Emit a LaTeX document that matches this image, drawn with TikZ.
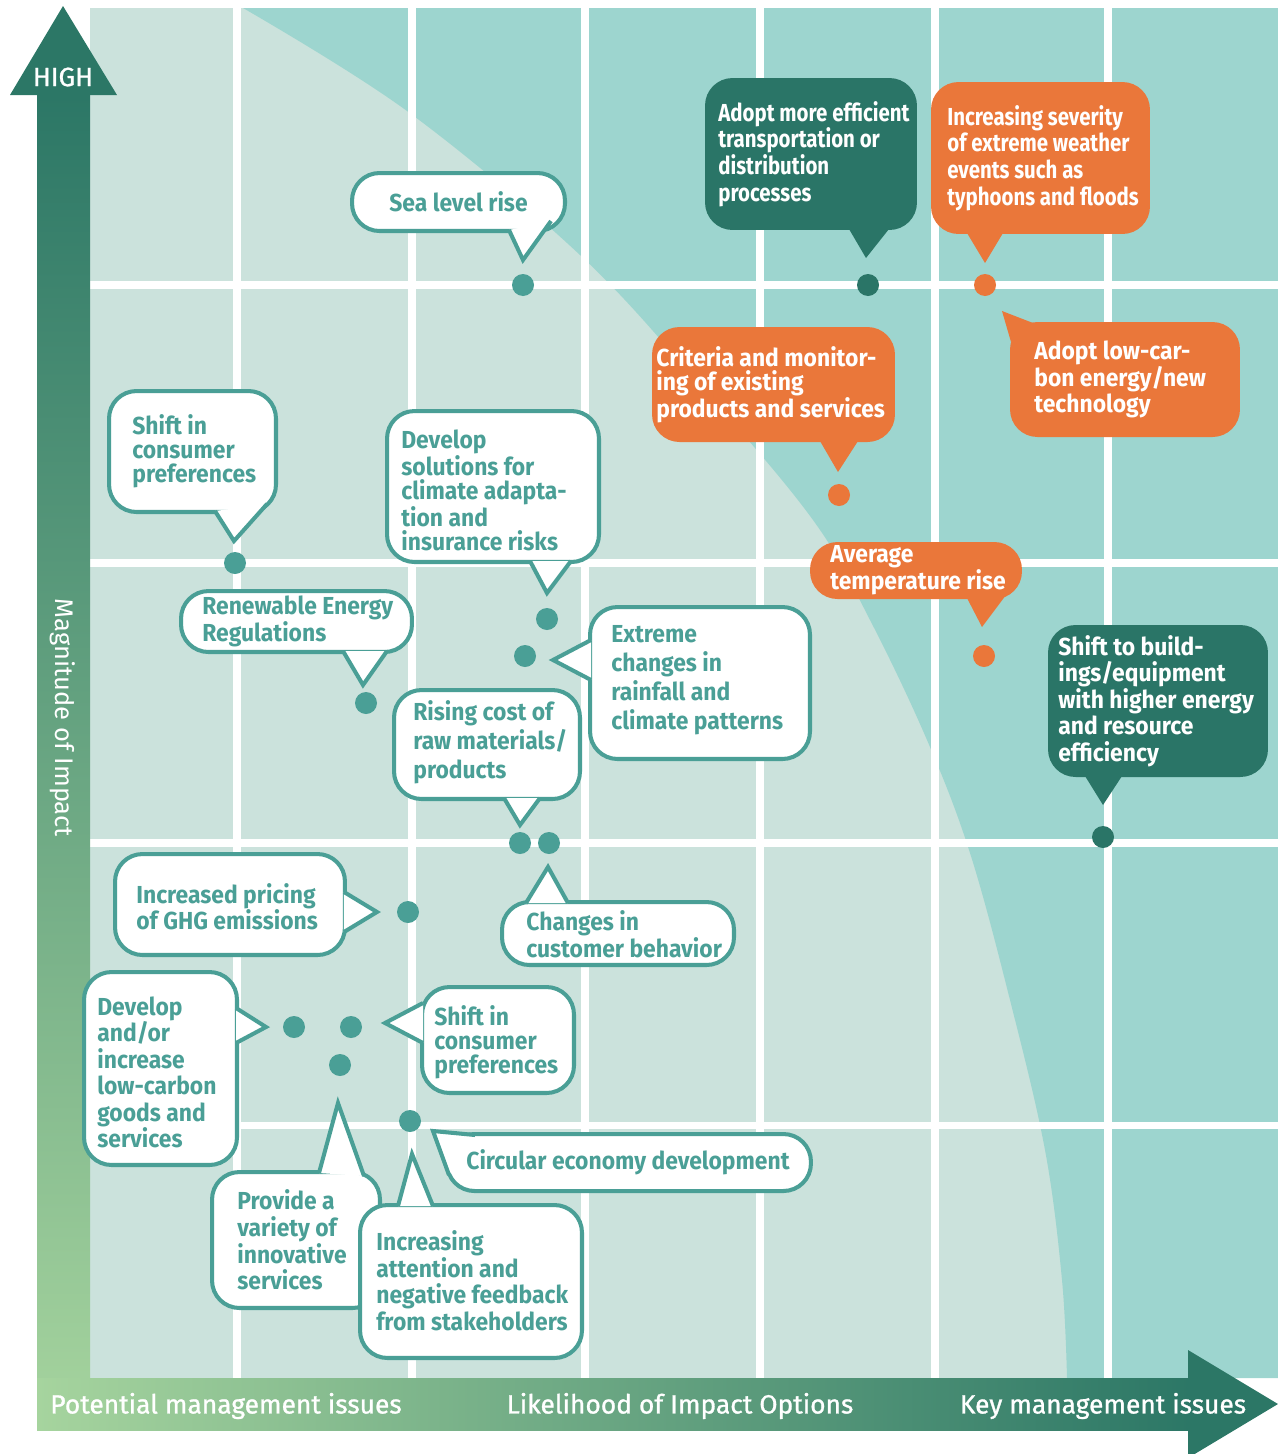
\documentclass[tikz,border=0pt]{standalone}
\usepackage{fontspec}
\setmainfont{Fira Sans}
\newfontfamily\bubblefont{Fira Sans}[FakeStretch=0.93]
\newfontfamily\condfont{Fira Sans}[FakeStretch=0.83]
\newfontfamily\axisfont{Fira Sans}[FakeBold=1]
\usetikzlibrary{calc}
\definecolor{gridbg}{HTML}{CBE2DC}
\definecolor{keybg}{HTML}{9DD5CF}
\definecolor{tealline}{HTML}{4A9F96}
\definecolor{deepgreen}{HTML}{2A7567}
\definecolor{alertorange}{HTML}{EA773A}
\definecolor{axisdark}{HTML}{2C7766}
\definecolor{axislight}{HTML}{A6D49E}
\tikzstyle{bubble} = [rectangle, draw=tealline, line width=2.3pt, fill=white, rounded corners=0.55cm, anchor=north west, inner sep=0pt]
\tikzstyle{orangebubble} = [bubble, draw=none, fill=alertorange]
\tikzstyle{greenbubble} = [bubble, draw=none, fill=deepgreen]
\tikzstyle{bubbletail} = [draw=tealline, line width=2.3pt, fill=white, line join=miter]
\tikzstyle{orangetail} = [fill=alertorange]
\tikzstyle{greentail} = [fill=deepgreen]
\tikzstyle{note} = [anchor=west, align=left, inner sep=0pt, text=tealline, font=\bubblefont\bfseries\fontsize{14}{15.1}\selectfont]
\tikzstyle{snug} = [font=\bubblefont\bfseries\fontsize{14}{13.6}\selectfont]
\tikzstyle{airy} = [font=\bubblefont\bfseries\fontsize{14}{16.6}\selectfont]
\tikzstyle{condensed} = [font=\condfont\bfseries\fontsize{14}{15.1}\selectfont]
\tikzstyle{whitenote} = [note, text=white]
\tikzstyle{spot} = [circle, fill=tealline, minimum size=0.44cm, inner sep=0pt]
\tikzstyle{axislabel} = [text=white, font=\axisfont\fontsize{15}{17}\selectfont]
\tikzstyle{gridline} = [draw=white, line width=4pt]

\begin{document}
\begin{tikzpicture}[x=0.02cm, y=-0.02cm]
\useasboundingbox (0,0) rectangle (1278,1454);
\fill [gridbg] (90,8) rectangle (1278,1378);
\fill [keybg] plot [smooth, tension=0.6] coordinates {(243,8) (407,111) (580,255) (700,385) (813,520) (870,620) (927,740) (970,853) (1010,1000) (1045,1150) (1062,1280) (1067,1378)} -- (1278,1378) -- (1278,8) -- cycle;
\foreach \gx in {237,412,585,760,935,1108}
  \draw [gridline] (\gx,8) -- (\gx,1378);
\foreach \gy in {285,563,843,1125}
  \draw [gridline] (90,\gy) -- (1278,\gy);

\shade [top color=axisdark, bottom color=axislight] (37,95) rectangle (90,1430);
\fill [axisdark] (10,95) -- (63,6) -- (117,95) -- cycle;
\shade [left color=axislight, right color=axisdark] (37,1378) rectangle (1190,1430);
\fill [axisdark] (1188,1350) -- (1278,1404) -- (1188,1458) -- cycle;
\node [axislabel] (high) at (63,77) {HIGH};
\node [axislabel, font=\fontsize{14.5}{16}\selectfont, rotate=-90] (magnitude) at (63,718) {Magnitude of Impact};
\node [axislabel] (potential) at (226,1406) {Potential management issues};
\node [axislabel] (likelihood) at (680,1406) {Likelihood of Impact Options};
\node [axislabel] (keyissues) at (1103,1406) {Key management issues};

\node [spot] (sea_pt) at (523,285) {};
\node [spot, fill=deepgreen] (eff_pt) at (868,285) {};
\node [spot, fill=alertorange] (sev_pt) at (985,285) {};
\node [spot, fill=alertorange] (crit_pt) at (839,495) {};
\node [spot, fill=alertorange] (temp_pt) at (984,656) {};
\node [spot, fill=deepgreen] (bld_pt) at (1103,837) {};
\node [spot] (pref_pt) at (235,563) {};
\node [spot] (adapt_pt) at (547,619) {};
\node [spot] (renew_pt) at (366,703) {};
\node [spot] (rain_pt) at (525,656) {};
\node [spot] (cost_pt) at (520,843) {};
\node [spot] (behav_pt) at (549,843) {};
\node [spot] (ghg_pt) at (408,912) {};
\node [spot] (goods_pt) at (294,1027) {};
\node [spot] (pref2_pt) at (351,1027) {};
\node [spot] (innov_pt) at (340,1065) {};
\node [spot] (circ_pt) at (410,1121) {};

\node [bubble, minimum width=4.26cm, minimum height=1.16cm] (sea) at (350,171) {};
\path [bubbletail] ($(sea.south east)+(-58,-3)$) -- ($(sea_pt)+(0,-25)$) -- ($(sea.south east)+(-16,-12)$);
\node [note, anchor=center] (sea_txt) at (sea.center) {Sea level rise};

\node [greenbubble, minimum width=4.24cm, minimum height=3.04cm] (eff) at (703,76) {};
\path [greentail] ($(eff.south east)+(-70,-3)$) -- ($(eff_pt)+(-2,-27)$) -- ($(eff.south east)+(-30,-3)$);
\node [whitenote, condensed] (eff_txt) at ($(eff.west)+(15,0)$) {Adopt more efficient\\transportation or\\distribution\\processes};

\node [orangebubble, minimum width=4.38cm, minimum height=3.04cm] (sev) at (929,80) {};
\path [orangetail] ($(sev.south west)+(38,-3)$) -- ($(sev_pt)+(0,-22)$) -- ($(sev.south west)+(74,-3)$);
\node [whitenote, condensed] (sev_txt) at ($(sev.west)+(18,0)$) {Increasing severity\\of extreme weather\\events such as\\typhoons and floods};

\node [orangebubble, minimum width=4.86cm, minimum height=2.30cm] (crit) at (650,325) {};
\path [orangetail] ($(crit.south west)+(170,-3)$) -- ($(crit_pt)+(-1,-23)$) -- ($(crit.south west)+(208,-3)$);
\node [whitenote, snug] (crit_txt) at ($(crit.west)+(6,0)$) {Criteria and monitor-\\ing of existing\\products and services};

\node [orangebubble, minimum width=4.60cm, minimum height=2.30cm] (lowc) at (1008,320) {};
\path [orangetail] ($(lowc.north west)+(25,3)$) -- ($(sev_pt)+(17,26)$) -- ($(lowc.north west)+(3,22)$);
\node [whitenote, snug] (lowc_txt) at ($(lowc.west)+(26,0)$) {Adopt low-car-\\bon energy/new\\technology};

\node [orangebubble, minimum width=4.24cm, minimum height=1.14cm] (temp) at (808,540) {};
\path [orangetail] ($(temp.south east)+(-57,-3)$) -- ($(temp_pt)+(-2,-29)$) -- ($(temp.south east)+(-18,-6)$);
\node [whitenote, snug] (temp_txt) at ($(temp.west)+(22,0)$) {Average\\temperature rise};

\node [greenbubble, minimum width=4.40cm, minimum height=3.04cm] (bld) at (1046,623) {};
\path [greentail] ($(bld.south west)+(39,-3)$) -- ($(bld_pt)+(0,-32)$) -- ($(bld.south west)+(76,-3)$);
\node [whitenote] (bld_txt) at ($(bld.west)+(12,0)$) {Shift to build-\\ings/equipment\\with higher energy\\and resource\\efficiency};

\node [bubble, minimum width=3.34cm, minimum height=2.42cm] (pref) at (107,389) {};
\path [bubbletail] ($(pref.south west)+(108,-3)$) -- ($(pref_pt)+(-1,-22)$) -- ($(pref.south east)+(-11,-10)$);
\node [note, snug] (pref_txt) at ($(pref.west)+(25,0)$) {Shift in\\consumer\\preferences};

\node [bubble, minimum width=4.24cm, minimum height=3.02cm] (adapt) at (385,409) {};
\path [bubbletail] ($(adapt.south west)+(145,-3)$) -- ($(adapt_pt)+(0,-26)$) -- ($(adapt.south east)+(-30,-3)$);
\node [note, snug] (adapt_txt) at ($(adapt.west)+(16,4)$) {Develop\\solutions for\\climate adapta-\\tion and\\insurance risks};

\node [bubble, minimum width=4.62cm, minimum height=1.22cm] (renew) at (179,589) {};
\path [bubbletail] ($(renew.south west)+(164,-3)$) -- ($(renew_pt)+(-3,-18)$) -- ($(renew.south east)+(-27,-3)$);
\node [note, snug] (renew_txt) at ($(renew.west)+(23,0)$) {Renewable Energy\\Regulations};

\node [bubble, minimum width=4.40cm, minimum height=3.04cm] (rain) at (588,605) {};
\path [bubbletail] ($(rain.north west)+(3,35)$) -- ($(rain_pt)+(28,4)$) -- ($(rain.north west)+(3,75)$);
\node [note, airy] (rain_txt) at ($(rain.west)+(23,-3)$) {Extreme\\changes in\\rainfall and\\climate patterns};

\node [bubble, minimum width=3.72cm, minimum height=2.18cm] (cost) at (392,688) {};
\path [bubbletail] ($(cost.south west)+(112,-3)$) -- ($(cost_pt)+(0,-18)$) -- ($(cost.south west)+(148,-3)$);
\node [note, airy] (cost_txt) at ($(cost.west)+(21,-2)$) {Rising cost of\\raw materials/\\products};

\node [bubble, minimum width=4.64cm, minimum height=1.26cm] (behav) at (500,900) {};
\path [bubbletail] ($(behav.north west)+(26,3)$) -- ($(behav_pt)+(-1,24)$) -- ($(behav.north west)+(68,3)$);
\node [note, snug] (behav_txt) at ($(behav.west)+(26,1)$) {Changes in\\customer behavior};

\node [bubble, minimum width=4.60cm, minimum height=2.02cm] (ghg) at (113,852) {};
\path [bubbletail] ($(ghg.north east)+(-3,40)$) -- ($(ghg_pt)+(-31,0)$) -- ($(ghg.north east)+(-3,80)$);
\node [note] (ghg_txt) at ($(ghg.west)+(23,2)$) {Increased pricing\\of GHG emissions};

\node [bubble, minimum width=3.06cm, minimum height=3.86cm] (goods) at (82,970) {};
\path [bubbletail] ($(goods.north east)+(-3,38)$) -- ($(goods_pt)+(-28,0)$) -- ($(goods.north east)+(-3,73)$);
\node [note] (goods_txt) at ($(goods.west)+(15,4)$) {Develop\\and/or\\increase\\low-carbon\\goods and\\services};

\node [bubble, minimum width=3.04cm, minimum height=2.12cm] (pref2) at (420,985) {};
\path [bubbletail] ($(pref2.north west)+(3,18)$) -- ($(pref2_pt)+(34,-4)$) -- ($(pref2.north west)+(3,58)$);
\node [note, snug] (pref2_txt) at ($(pref2.west)+(14,2)$) {Shift in\\consumer\\preferences};

\node [bubble, minimum width=3.36cm, minimum height=2.72cm] (innov) at (210,1170) {};
\path [bubbletail] ($(innov.north west)+(109,3)$) -- ($(innov_pt)+(-2,38)$) -- ($(innov.north east)+(-18,6)$);
\node [note] (innov_txt) at ($(innov.west)+(27,0)$) {Provide a\\variety of\\innovative\\services};

\node [bubble, minimum width=4.44cm, minimum height=3.06cm] (stake) at (358,1203) {};
\path [bubbletail] ($(stake.north west)+(40,3)$) -- ($(circ_pt)+(2,33)$) -- ($(stake.north west)+(75,3)$);
\node [note] (stake_txt) at ($(stake.west)+(18,-1)$) {Increasing\\attention and\\negative feedback\\from stakeholders};

\node [bubble, minimum width=7.28cm, minimum height=1.14cm] (circ) at (445,1132) {};
\path [bubbletail] ($(circ.north west)+(30,3)$) -- ($(circ_pt)+(23,10)$) -- ($(circ.south west)+(4,-18)$);
\node [note] (circ_txt) at ($(circ.west)+(21,0)$) {Circular economy development};
\end{tikzpicture}
\end{document}
